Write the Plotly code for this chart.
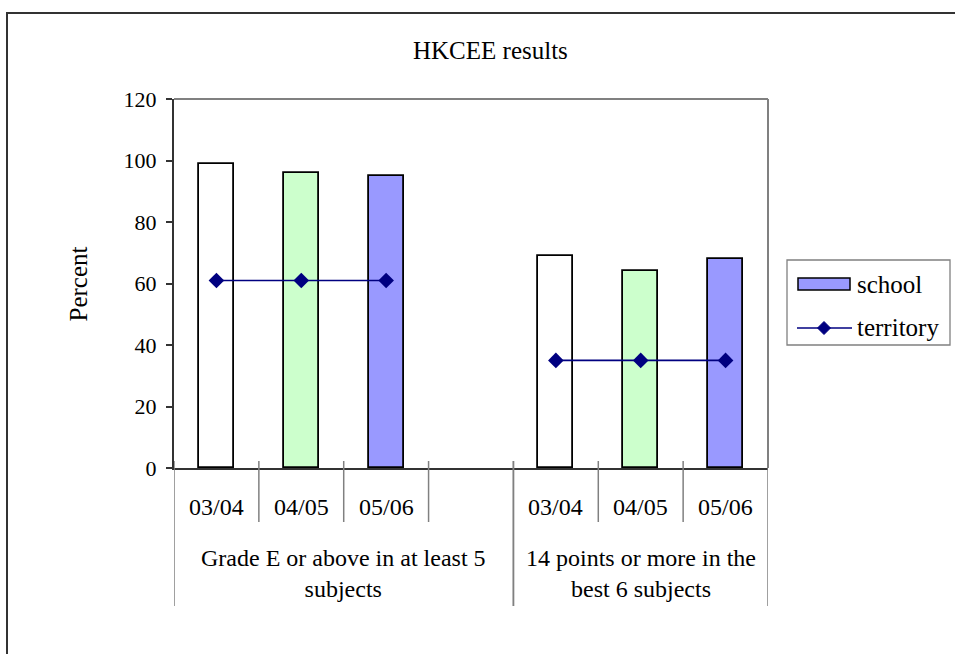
import plotly.graph_objects as go

# --- data -------------------------------------------------------------
chart_title = "HKCEE results"
y_title = "Percent"
group_labels = [
    "Grade E or above in at least 5<br>subjects",
    "14 points or more in the<br>best 6 subjects",
]
# one entry per category slot; the blank slot separates the two groups
sub_labels = ["03/04", "04/05", "05/06", "", "03/04", "04/05", "05/06"]
slot_group = [0, 0, 0, 0, 1, 1, 1]
school = [99, 96, 95, None, 69, 64, 68]
territory = [61, 61, 61, None, 35, 35, 35]
year_colors = {"03/04": "#FFFFFF", "04/05": "#CCFFCC", "05/06": "#9999FF", "": "#FFFFFF"}
y_ticks = [0, 20, 40, 60, 80, 100, 120]

# --- layout geometry (pixels) ----------------------------------------
FIG_W, FIG_H = 955, 654
L, R, T, B = 174, 768, 99, 468
PW, PH = R - L, B - T


def px(xpix):
    return (xpix - L) / PW


def py(ypix):
    return (B - ypix) / PH


FONT = "Liberation Serif, Times New Roman, serif"
slots = list(range(len(sub_labels)))

fig = go.Figure()

fig.add_trace(go.Bar(
    x=slots, y=school, name="school", width=0.41,
    marker=dict(color=[year_colors[s] for s in sub_labels],
                line=dict(color="#000000", width=1.8)),
    showlegend=False,
))
fig.add_trace(go.Scatter(
    x=slots, y=territory, name="territory", mode="lines+markers",
    connectgaps=False,
    line=dict(color="#000080", width=1.6),
    marker=dict(symbol="diamond", size=12, color="#000080"),
    showlegend=False,
))

shapes = []
annotations = []

# category labels under the axis
for i, lab in enumerate(sub_labels):
    if lab:
        annotations.append(dict(x=i, y=py(507), xref="x", yref="paper", text=lab,
                                showarrow=False, xanchor="center", yanchor="middle",
                                font=dict(size=24, family=FONT, color="#000")))

# group labels and divider lines
for g, glab in enumerate(group_labels):
    members = [i for i in slots if slot_group[i] == g]
    lo, hi = min(members) - 0.5, max(members) + 0.5
    annotations.append(dict(x=(lo + hi) / 2, y=py(573), xref="x", yref="paper", text=glab,
                            showarrow=False, xanchor="center", yanchor="middle",
                            font=dict(size=24, family=FONT, color="#000")))
    for b in [m + 0.5 for m in members[:-1]]:
        shapes.append(dict(type="line", xref="x", yref="paper", x0=b, x1=b,
                           y0=py(461), y1=py(522), line=dict(color="#808080", width=1.5)))
    for b in (lo, hi):
        shapes.append(dict(type="line", xref="x", yref="paper", x0=b, x1=b,
                           y0=py(461), y1=py(606), line=dict(color="#808080", width=1.5)))

# plot-area border (top and right)
shapes.append(dict(type="line", xref="paper", yref="paper", x0=0, x1=1, y0=1, y1=1,
                   line=dict(color="#808080", width=2)))
shapes.append(dict(type="line", xref="paper", yref="paper", x0=1, x1=1, y0=0, y1=1,
                   line=dict(color="#808080", width=2)))

# chart-area frame
shapes.append(dict(type="rect", xref="paper", yref="paper",
                   x0=px(7), x1=px(975), y0=py(13), y1=py(680),
                   line=dict(color="#333333", width=2), fillcolor="rgba(0,0,0,0)", layer="below"))

# legend
shapes.append(dict(type="rect", xref="paper", yref="paper",
                   x0=px(787), x1=px(950), y0=py(260), y1=py(345),
                   line=dict(color="#808080", width=1.3), fillcolor="#FFFFFF"))
shapes.append(dict(type="rect", xref="paper", yref="paper",
                   x0=px(798), x1=px(850), y0=py(278), y1=py(290),
                   line=dict(color="#000000", width=1.5), fillcolor=year_colors["05/06"]))
shapes.append(dict(type="line", xref="paper", yref="paper",
                   x0=px(797), x1=px(852), y0=py(328), y1=py(328),
                   line=dict(color="#000080", width=1.6)))
dx, dy = 6.5, 6.5
cx, cy = 824, 328
shapes.append(dict(type="path", xref="paper", yref="paper",
                   path=f"M {px(cx - dx)} {py(cy)} L {px(cx)} {py(cy - dy)} "
                        f"L {px(cx + dx)} {py(cy)} L {px(cx)} {py(cy + dy)} Z",
                   line=dict(color="#000080", width=1), fillcolor="#000080"))
annotations.append(dict(x=px(855), y=py(284), xref="paper", yref="paper", text="school",
                        showarrow=False, xanchor="left", yanchor="middle",
                        font=dict(size=25, family=FONT, color="#000")))
annotations.append(dict(x=px(855), y=py(327), xref="paper", yref="paper", text="territory",
                        showarrow=False, xanchor="left", yanchor="middle",
                        font=dict(size=25, family=FONT, color="#000")))

# titles
annotations.append(dict(x=px(490), y=py(50), xref="paper", yref="paper", text=chart_title,
                        showarrow=False, xanchor="center", yanchor="middle",
                        font=dict(size=25, family=FONT, color="#000")))
annotations.append(dict(x=px(78), y=0.5, xref="paper", yref="paper", text=y_title,
                        textangle=-90, showarrow=False, xanchor="center", yanchor="middle",
                        font=dict(size=25, family=FONT, color="#000")))

fig.update_layout(
    width=FIG_W, height=FIG_H,
    margin=dict(l=L, r=FIG_W - R, t=T, b=FIG_H - B, pad=0),
    paper_bgcolor="#FFFFFF", plot_bgcolor="#FFFFFF",
    showlegend=False,
    shapes=shapes, annotations=annotations,
    font=dict(family=FONT, color="#000"),
    bargap=0,
)
fig.update_xaxes(range=[-0.5, len(slots) - 0.5], showticklabels=False, ticks="",
                 showgrid=False, zeroline=False, showline=True,
                 linecolor="#333333", linewidth=2)
fig.update_yaxes(range=[0, 120], tickvals=y_ticks, ticks="outside", ticklen=6,
                 tickcolor="#333333", tickwidth=1.5, showgrid=False, zeroline=False,
                 showline=True, linecolor="#333333", linewidth=2,
                 tickfont=dict(size=22, family=FONT, color="#000"),
                 ticklabelstandoff=5)

fig.write_html("out.html")
